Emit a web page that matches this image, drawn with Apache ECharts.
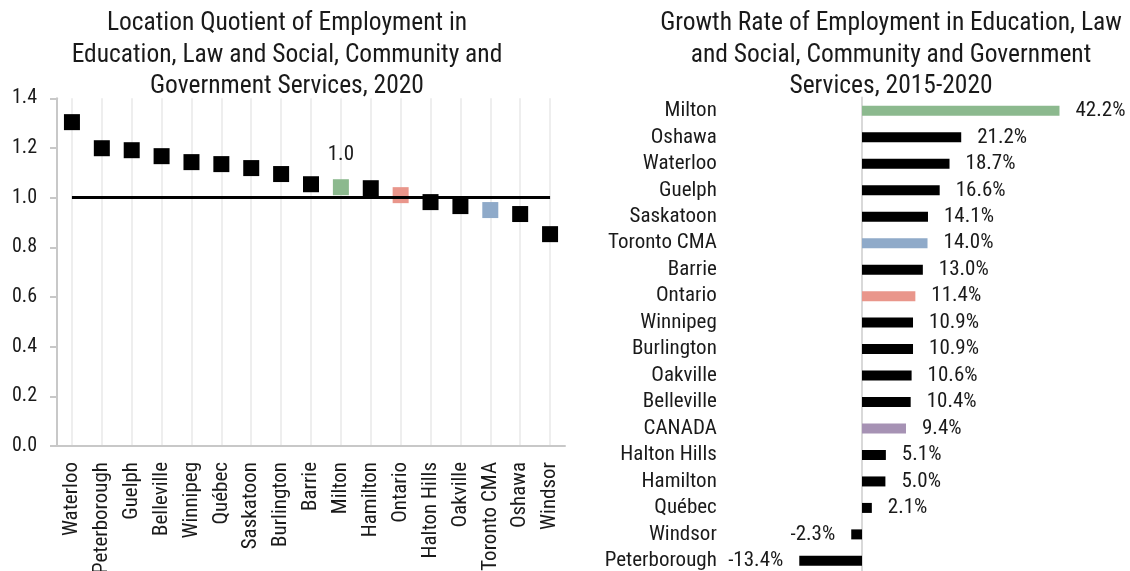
<!DOCTYPE html>
<html>
<head>
<meta charset="utf-8">
<style>
  html, body { margin: 0; padding: 0; background: #fff; }
  #chart { width: 1130px; height: 571px; }
</style>
<script src="https://cdn.jsdelivr.net/npm/echarts@6/dist/echarts.min.js"></script>
</head>
<body>
<div id="chart"></div>
<script>
// Location quotient, 2020
const lqPlaces = ['Waterloo', 'Peterborough', 'Guelph', 'Belleville', 'Winnipeg', 'Québec', 'Saskatoon',
  'Burlington', 'Barrie', 'Milton', 'Hamilton', 'Ontario', 'Halton Hills', 'Oakville', 'Toronto CMA',
  'Oshawa', 'Windsor'];
const lqValues = [1.304, 1.199, 1.191, 1.167, 1.143, 1.135, 1.119, 1.095, 1.054, 1.042, 1.038, 1.010,
  0.982, 0.966, 0.950, 0.934, 0.853];
const lqTicks = [0, 0.2, 0.4, 0.6, 0.8, 1.0, 1.2, 1.4];
const lqReference = 1.0;
const lqLabelled = ['Milton'];

// Growth rate, 2015-2020 (%)
const growthPlaces = ['Milton', 'Oshawa', 'Waterloo', 'Guelph', 'Saskatoon', 'Toronto CMA', 'Barrie',
  'Ontario', 'Winnipeg', 'Burlington', 'Oakville', 'Belleville', 'CANADA', 'Halton Hills', 'Hamilton',
  'Québec', 'Windsor', 'Peterborough'];
const growthValues = [42.2, 21.2, 18.7, 16.6, 14.1, 14.0, 13.0, 11.4, 10.9, 10.9, 10.6, 10.4, 9.4, 5.1,
  5.0, 2.1, -2.3, -13.4];

// Highlighted places
const highlightColors = {
  'Milton': '#8cb98e',
  'Ontario': '#e9968b',
  'Toronto CMA': '#8faac9',
  'CANADA': '#a692b4'
};
const baseColor = '#000000';

const FONT = "'Roboto Condensed', 'Liberation Sans Narrow', 'DejaVu Sans Condensed', 'Noto Sans', sans-serif";
const TEXT = '#1a1a1a';

const colorOf = name => highlightColors[name] || baseColor;

const chart = echarts.init(document.getElementById('chart'), null, { renderer: 'canvas' });

const titleStyle = { fontFamily: FONT, fontSize: 25.5, fontWeight: 'normal', color: TEXT, lineHeight: 31.5 };

chart.setOption({
  backgroundColor: '#ffffff',
  animation: false,
  textStyle: { fontFamily: FONT, color: TEXT },
  title: [
    {
      text: 'Location Quotient of Employment in\nEducation, Law and Social, Community and\nGovernment Services, 2020',
      left: 287, top: 8, padding: 0, textAlign: 'center', textStyle: titleStyle
    },
    {
      text: 'Growth Rate of Employment in Education, Law\nand Social, Community and Government\nServices, 2015-2020',
      left: 891, top: 8, padding: 0, textAlign: 'center', textStyle: titleStyle
    }
  ],
  grid: [
    { left: 57, right: 565, top: 98.3, bottom: 125, containLabel: false, outerBoundsMode: 'none' },
    { left: 791.8, width: 280.8, top: 97.6, height: 476.5, containLabel: false, outerBoundsMode: 'none' }
  ],
  xAxis: [
    {
      gridIndex: 0, type: 'category', data: lqPlaces,
      axisLine: { show: true, lineStyle: { color: '#c8c8c8', width: 2 } },
      axisTick: { show: false },
      axisLabel: { rotate: 90, interval: 0, margin: 16, fontSize: 21, color: TEXT, fontFamily: FONT },
      splitLine: { show: true, alignWithLabel: true, interval: 0, lineStyle: { color: '#eeeeee', width: 2 } }
    },
    {
      gridIndex: 1, type: 'value', min: -15, max: 45,
      show: false, splitLine: { show: false }
    }
  ],
  yAxis: [
    {
      gridIndex: 0, type: 'value', min: lqTicks[0], max: lqTicks[lqTicks.length - 1], interval: 0.2,
      axisLine: { show: true, lineStyle: { color: '#c8c8c8', width: 2 } },
      axisTick: { show: true, length: 7, lineStyle: { color: '#c8c8c8', width: 2 } },
      axisLabel: { margin: 20, fontSize: 20, color: TEXT, fontFamily: FONT, formatter: v => v.toFixed(1) },
      splitLine: { show: false }
    },
    {
      gridIndex: 1, type: 'category', data: growthPlaces, inverse: true,
      axisLine: { show: true, onZero: true, lineStyle: { color: '#d9d9d9', width: 2 } },
      axisTick: { show: false },
      axisLabel: { interval: 0, margin: 75, fontSize: 21, color: TEXT, fontFamily: FONT },
      splitLine: { show: false }
    }
  ],
  series: [
    {
      name: 'Location Quotient',
      type: 'scatter', xAxisIndex: 0, yAxisIndex: 0,
      symbol: 'rect', symbolSize: 16,
      itemStyle: { opacity: 1 },
      data: lqValues.map((v, i) => ({
        value: v,
        itemStyle: { color: colorOf(lqPlaces[i]), opacity: 1 },
        label: {
          show: lqLabelled.includes(lqPlaces[i]),
          position: 'top', distance: 14,
          fontSize: 21, color: TEXT, fontFamily: FONT,
          formatter: p => p.value.toFixed(1)
        }
      })),
      markLine: {
        silent: true, symbol: 'none', label: { show: false },
        lineStyle: { color: '#000', width: 3, type: 'solid' },
        data: [[
          { coord: [lqPlaces[0], lqReference] },
          { coord: [lqPlaces[lqPlaces.length - 1], lqReference] }
        ]]
      },
      z: 3
    },
    {
      name: 'Growth Rate',
      type: 'bar', xAxisIndex: 1, yAxisIndex: 1,
      barWidth: 10,
      data: growthValues.map((v, i) => ({
        value: v,
        itemStyle: { color: colorOf(growthPlaces[i]) },
        label: {
          show: true,
          position: v >= 0 ? 'right' : 'left',
          distance: 16,
          fontSize: 21, color: TEXT, fontFamily: FONT,
          formatter: p => p.value.toFixed(1) + '%'
        }
      }))
    }
  ]
});
</script>
</body>
</html>
